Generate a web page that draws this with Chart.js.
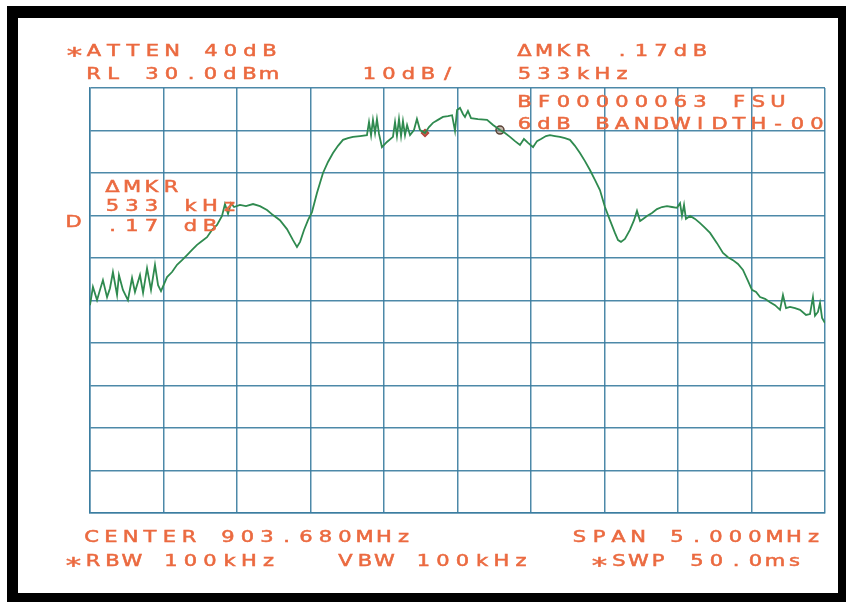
<!DOCTYPE html>
<html lang="en">
<head>
    <meta charset="UTF-8">
    <title>Spectrum Analyzer Plot</title>
    <script src="https://cdn.jsdelivr.net/npm/chart.js"></script>
    <style>
        html, body { margin: 0; padding: 0; background: #fff; }
        canvas { display: block; }
    </style>
</head>
<body>
    <canvas id="spectrum" width="846" height="602"></canvas>

    <script>
        // trace: frequency (MHz) and level (dBm)
        const freqMHz = [
            901.180, 901.200, 901.228, 901.248, 901.268, 901.296, 901.316, 901.336, 901.364, 901.377,
            901.404, 901.438, 901.466, 901.486, 901.520, 901.541, 901.568, 901.595, 901.622, 901.643,
            901.663, 901.704, 901.738, 901.772, 901.806, 901.840, 901.874, 901.908, 901.942, 901.976,
            902.010, 902.044, 902.078, 902.098, 902.119, 902.139, 902.160, 902.200, 902.241, 902.289,
            902.336, 902.384, 902.425, 902.472, 902.520, 902.561, 902.588, 902.609, 902.636, 902.663,
            902.690, 902.724, 902.765, 902.799, 902.833, 902.867, 902.901, 902.935, 902.969, 903.017,
            903.064, 903.078, 903.092, 903.105, 903.119, 903.132, 903.146, 903.166, 903.200, 903.241,
            903.255, 903.268, 903.282, 903.296, 903.309, 903.323, 903.337, 903.357, 903.384, 903.404,
            903.425, 903.459, 903.486, 903.513, 903.547, 903.581, 903.615, 903.643, 903.663, 903.677,
            903.697, 903.717, 903.731, 903.751, 903.772, 903.819, 903.881, 903.922, 903.969, 904.003,
            904.037, 904.071, 904.105, 904.132, 904.160, 904.194, 904.221, 904.248, 904.282, 904.309,
            904.343, 904.377, 904.411, 904.445, 904.479, 904.513, 904.547, 904.581, 904.615, 904.649,
            904.683, 904.717, 904.751, 904.772, 904.792, 904.819, 904.853, 904.881, 904.901, 904.922,
            904.942, 904.969, 905.003, 905.037, 905.071, 905.105, 905.139, 905.173, 905.194, 905.207,
            905.221, 905.234, 905.262, 905.296, 905.330, 905.364, 905.398, 905.445, 905.486, 905.520,
            905.554, 905.588, 905.622, 905.656, 905.683, 905.711, 905.738, 905.772, 905.806, 905.840,
            905.874, 905.894, 905.915, 905.942, 905.976, 906.010, 906.051, 906.078, 906.098, 906.112,
            906.132, 906.146, 906.160, 906.180
        ];
        const levelDbm = [
            -21.1, -16.8, -19.9, -17.5, -15.2, -19.2, -17.1, -13.3, -18.7, -14.0,
            -17.5, -19.9, -14.7, -18.0, -14.0, -18.2, -12.4, -17.5, -11.6, -16.4,
            -17.8, -14.5, -13.3, -11.6, -10.5, -9.3, -8.1, -6.9, -6.0, -5.1,
            -3.4, -2.2, -0.1, 2.7, 0.4, 2.9, 2.0, 2.5, 2.2, 2.7,
            2.2, 1.3, 0.1, -1.1, -3.2, -5.8, -7.4, -6.2, -3.4, -1.1,
            0.8, 5.3, 10.0, 12.6, 14.7, 16.4, 17.8, 18.2, 18.5, 18.7,
            18.9, 22.0, 18.9, 22.5, 19.4, 22.7, 19.2, 16.1, 17.3, 18.5,
            22.0, 18.7, 22.7, 18.7, 22.2, 18.9, 21.3, 18.9, 20.1, 22.7,
            20.1, 19.4, 20.8, 21.8, 22.5, 23.2, 23.4, 23.6, 19.9, 24.8,
            25.3, 23.9, 23.2, 24.6, 22.9, 22.7, 22.5, 21.3, 20.1, 19.4,
            18.5, 17.5, 16.6, 18.0, 17.1, 16.1, 17.5, 18.0, 18.7, 18.9,
            18.7, 18.5, 18.2, 17.8, 16.4, 14.7, 12.8, 10.7, 8.4, 6.0,
            2.0, -1.1, -4.1, -5.8, -6.2, -5.5, -3.4, -1.1, 1.1, -1.3,
            -0.8, -0.1, 0.6, 1.5, 2.0, 2.2, 2.0, 1.8, 2.9, -0.1,
            2.5, -0.8, -0.1, -0.8, -1.8, -2.9, -4.1, -6.5, -8.8, -9.8,
            -10.5, -11.4, -12.8, -15.4, -17.5, -18.0, -19.2, -19.6, -20.4, -21.1,
            -22.2, -18.7, -21.8, -21.5, -21.8, -22.2, -23.4, -23.2, -19.2, -23.6,
            -22.7, -20.6, -24.1, -25.3
        ];

        // delta marker pair
        const markerFreq = [903.459, 903.969];
        const markerLevel = [19.4, 20.1];

        // 10 divisions across the 5 MHz span, 10 dB per division down from RL 30 dBm
        const xGrid = [901.18, 901.68, 902.18, 902.68, 903.18, 903.68, 904.18, 904.68, 905.18, 905.68, 906.18];
        const yGrid = [-70, -60, -50, -40, -30, -20, -10, 0, 10, 20, 30];

        // annotation lines printed around the graticule: [text, left x, baseline y]
        const headerText = [
            ["*ATTEN 40dB", 67, 56],
            ["RL 30.0dBm", 86, 79],
            ["10dB/", 362, 79],
            ["\u0394MKR .17dB", 517, 56],
            ["533kHz", 517, 79],
            ["BF00000063 FSU", 517, 107],
            ["6dB BANDWIDTH-00", 517, 129],
            ["\u0394MKR", 105, 192],
            ["533 kHz", 105, 211],
            ["D", 66, 227],
            [".17 dB", 105, 231],
            ["CENTER 903.680MHz", 84, 542],
            ["SPAN 5.000MHz", 572, 542],
            ["*RBW 100kHz", 66, 566],
            ["VBW 100kHz", 338, 566],
            ["*SWP 50.0ms", 592, 566]
        ];

        const gridColor = "rgba(58, 124, 158, 0.9)";
        const inkColor = "#eb6a40";
        const pitch = 19.5;

        // black mount around the white sheet, plotter lettering on top
        const paperPlugin = {
            id: "paper",
            beforeDraw(chart) {
                const c = chart.ctx;
                c.save();
                c.fillStyle = "#fff";
                c.fillRect(0, 0, chart.width, chart.height);
                c.fillStyle = "#000";
                c.fillRect(7, 6, chart.width - 7, chart.height - 6);
                c.fillStyle = "#fff";
                c.fillRect(18, 18, 820, 575);
                c.restore();
            },
            afterDraw(chart) {
                const c = chart.ctx;
                c.save();
                c.fillStyle = inkColor;
                c.strokeStyle = inkColor;
                c.lineWidth = 0.5;
                c.textAlign = "center";
                c.textBaseline = "alphabetic";
                headerText.forEach(([txt, x0, y]) => {
                    [...txt].forEach((ch, i) => {
                        const cx = x0 + i * pitch + 7.5;
                        // the plotter star is large and sits at mid height
                        const star = ch === "*";
                        c.font = star ? "22px 'DejaVu Sans'" : "15px 'DejaVu Sans'";
                        c.save();
                        c.translate(cx, y + (star ? 7 : 0));
                        c.scale(1.4, 1);
                        c.fillText(ch, 0, 0);
                        c.strokeText(ch, 0, 0);
                        c.restore();
                    });
                });
                c.restore();
            }
        };

        const ctx = document.getElementById("spectrum").getContext("2d");

        new Chart(ctx, {
            type: "line",
            data: {
                datasets: [
                    {
                        data: freqMHz.map((f, i) => ({ x: f, y: levelDbm[i] })),
                        borderColor: "#2f8a4f",
                        borderWidth: 1.8,
                        pointRadius: 0,
                        tension: 0
                    },
                    {
                        data: markerFreq.map((f, i) => ({ x: f, y: markerLevel[i] })),
                        showLine: false,
                        pointStyle: ["rectRot", "circle"],
                        pointRadius: [3.5, 4],
                        borderWidth: 1.5,
                        borderColor: ["#b2453a", "#5a4236"],
                        backgroundColor: ["#c85a48", "rgba(140,110,90,0.5)"]
                    }
                ]
            },
            options: {
                responsive: false,
                animation: false,
                events: [],
                layout: { padding: { left: 90, top: 88, right: 21, bottom: 89 } },
                plugins: {
                    legend: { display: false },
                    tooltip: { enabled: false }
                },
                scales: {
                    x: {
                        type: "linear",
                        min: 901.18,
                        max: 906.18,
                        afterBuildTicks: axis => { axis.ticks = xGrid.map(v => ({ value: v })); },
                        ticks: { display: false },
                        grid: { color: gridColor, lineWidth: 1.5, drawTicks: false },
                        border: { color: gridColor, width: 1.5 }
                    },
                    y: {
                        min: -70,
                        max: 30,
                        afterBuildTicks: axis => { axis.ticks = yGrid.map(v => ({ value: v })); },
                        ticks: { display: false },
                        grid: { color: gridColor, lineWidth: 1.5, drawTicks: false },
                        border: { color: gridColor, width: 1.5 }
                    }
                }
            },
            plugins: [paperPlugin]
        });
    </script>
</body>
</html>
